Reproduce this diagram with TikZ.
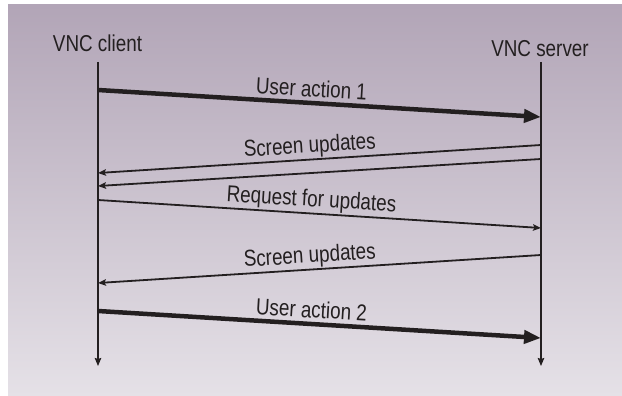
\documentclass[tikz,border=0pt]{standalone}
\usepackage{fontspec}
\setmainfont{Liberation Sans}[FakeStretch=0.82]
\usetikzlibrary{arrows.meta}
\definecolor{ink}{HTML}{231F20}
\definecolor{bgtop}{HTML}{B2A5B7}
\definecolor{bgbot}{HTML}{E5E1E7}
\begin{document}
\begin{tikzpicture}[x=1pt,y=-1pt,
  lbl/.style={font=\fontsize{23}{27}\selectfont, text=ink, inner sep=0pt},
  tag/.style={lbl, sloped, text depth=0pt},
  life/.style={draw=ink, line width=1.2pt, -{Stealth[length=8pt,width=6.5pt,inset=1pt]}},
  thickmsg/.style={draw=ink, line width=4.5pt, -{Triangle[length=17pt,width=13pt]}},
  thinfwd/.style={draw=ink, line width=1.8pt, -{Stealth[length=8pt,width=6.5pt,inset=1.5pt]}},
  thinback/.style={draw=ink, line width=1.8pt, {Stealth[length=8pt,width=6.5pt,inset=1.5pt]}-}]
\useasboundingbox (0,0) rectangle (622,396);
\fill[white] (0,0) rectangle (622,396);
\shade[top color=bgtop, bottom color=bgbot] (8,5) rectangle (622,396);

\node[lbl, anchor=base] (client) at (97.5,52) {VNC client};
\node[lbl, anchor=base] (server) at (540,57) {VNC server};

\coordinate (ctop) at (98,62);
\coordinate (cbot) at (98,366);
\coordinate (stop) at (541,62);
\coordinate (sbot) at (541,366);
\draw[life] (ctop) -- (cbot);
\draw[life] (stop) -- (sbot);

\coordinate (c1) at (98,90);   \coordinate (s1) at (541,117);
\coordinate (c2) at (98,173);  \coordinate (s2) at (541,145);
\coordinate (c3) at (98,186);  \coordinate (s3) at (541,159);
\coordinate (c4) at (98,200);  \coordinate (s4) at (541,228);
\coordinate (c5) at (98,283);  \coordinate (s5) at (541,255);
\coordinate (c6) at (98,311);  \coordinate (s6) at (541,338);

\draw[thickmsg] (c1) -- node[tag, pos=0.48, above=4pt] (t1) {User action 1} (s1);
\draw[thinback] (c2) -- node[tag, pos=0.48, above=6pt] (t2) {Screen updates} (s2);
\draw[thinback] (c3) -- (s3);
\draw[thinfwd] (c4) -- node[tag, pos=0.48, above=6pt] (t4) {Request for updates} (s4);
\draw[thinback] (c5) -- node[tag, pos=0.48, above=6pt] (t5) {Screen updates} (s5);
\draw[thickmsg] (c6) -- node[tag, pos=0.48, above=4pt] (t6) {User action 2} (s6);
\end{tikzpicture}
\end{document}
